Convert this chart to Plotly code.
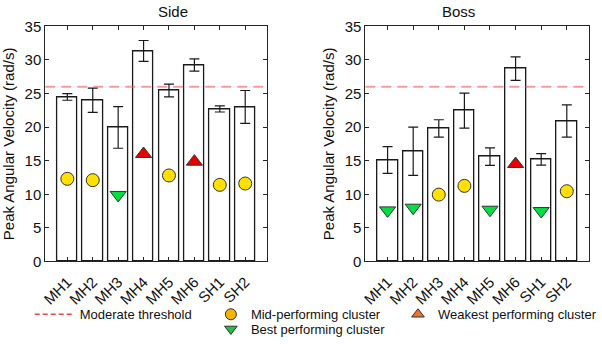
import plotly.graph_objects as go

categories = ["MH1", "MH2", "MH3", "MH4", "MH5", "MH6", "SH1", "SH2"]

side_mean = [24.5, 24.0, 19.95, 31.35, 25.45, 29.25, 22.7, 23.0]
side_err = [0.5, 1.8, 3.1, 1.55, 0.95, 0.9, 0.45, 2.45]
side_cluster = ["mid", "mid", "best", "weak", "mid", "weak", "mid", "mid"]
side_marker = [12.3, 12.1, 9.9, 16.0, 12.8, 14.85, 11.4, 11.6]

boss_mean = [15.1, 16.4, 19.8, 22.45, 15.6, 28.7, 15.2, 20.9]
boss_err = [2.0, 3.6, 1.3, 2.6, 1.3, 1.75, 0.85, 2.4]
boss_cluster = ["best", "best", "mid", "mid", "best", "weak", "best", "mid"]
boss_marker = [7.6, 8.0, 9.95, 11.25, 7.7, 14.5, 7.5, 10.45]

threshold = 26
panel_titles = ["Side", "Boss"]
y_title = "Peak Angular Velocity (rad/s)"
y_ticks = [0, 5, 10, 15, 20, 25, 30, 35]

cluster_style = {
    "mid": dict(symbol="circle", color="#FFE000", size=13, name="Mid-performing cluster",
                legend_color="#F5B400"),
    "best": dict(symbol="triangle-down", color="#00E040", size=14, name="Best performing cluster",
                 legend_color="#22C040"),
    "weak": dict(symbol="triangle-up", color="#E80000", size=14, name="Weakest performing cluster",
                 legend_color="#F07030"),
}

xpos = list(range(1, len(categories) + 1))
xlim = [0.13, 8.87]

fig = go.Figure()
AXC = "#262626"
FONT = "Liberation Sans"

panels = [(side_mean, side_err, side_cluster, side_marker),
          (boss_mean, boss_err, boss_cluster, boss_marker)]
for i, (mean, err, clus, mk) in enumerate(panels):
    xa = "x" if i == 0 else "x2"
    ya = "y" if i == 0 else "y2"
    fig.add_trace(go.Bar(
        x=xpos, y=mean, width=0.8, xaxis=xa, yaxis=ya,
        marker=dict(color="white", line=dict(color="#1a1a1a", width=1.3)),
        error_y=dict(type="data", array=err, visible=True, color="#1a1a1a", thickness=1.2, width=5),
        showlegend=False, hoverinfo="skip"))
    fig.add_trace(go.Scatter(
        x=xlim, y=[threshold, threshold], mode="lines", xaxis=xa, yaxis=ya,
        line=dict(color="rgba(240,90,90,0.6)", width=2, dash="10px,6px"),
        showlegend=False, hoverinfo="skip"))
    for key, st in cluster_style.items():
        xs = [x for x, c in zip(xpos, clus) if c == key]
        ys = [v for v, c in zip(mk, clus) if c == key]
        if not xs:
            continue
        fig.add_trace(go.Scatter(
            x=xs, y=ys, mode="markers", xaxis=xa, yaxis=ya,
            marker=dict(symbol=st["symbol"], color=st["color"], size=st["size"],
                        line=dict(color="#333333", width=1)),
            showlegend=False, hoverinfo="skip"))

# legend-only traces
fig.add_trace(go.Scatter(x=[None], y=[None], mode="lines", name="Moderate threshold",
                         line=dict(color="#E84848", width=1.5, dash="5px,3px"), legend="legend"))
fig.add_trace(go.Scatter(x=[None], y=[None], mode="markers", name=cluster_style["mid"]["name"],
                         marker=dict(symbol="circle", color=cluster_style["mid"]["legend_color"], size=11,
                                     line=dict(color="#333333", width=1)), legend="legend2"))
fig.add_trace(go.Scatter(x=[None], y=[None], mode="markers", name=cluster_style["best"]["name"],
                         marker=dict(symbol="triangle-down", color=cluster_style["best"]["legend_color"], size=11,
                                     line=dict(color="#333333", width=1)), legend="legend4"))
fig.add_trace(go.Scatter(x=[None], y=[None], mode="markers", name=cluster_style["weak"]["name"],
                         marker=dict(symbol="triangle-up", color=cluster_style["weak"]["legend_color"], size=11,
                                     line=dict(color="#333333", width=1)), legend="legend3"))

W, H = 602, 344
ydom = [1 - 264.5 / H, 1 - 26.7 / H]
xdom1 = [45.7 / W, 270 / W]
xdom2 = [369 / W, 595 / W]

axis_common = dict(showline=True, linecolor=AXC, linewidth=1, mirror="ticks", ticks="inside",
                   tickcolor=AXC, ticklen=4, tickfont=dict(size=15, color="#111", family=FONT),
                   showgrid=False, zeroline=False, automargin=False)
xcommon = dict(axis_common, range=xlim, tickvals=xpos, ticktext=categories, tickangle=-45,
               tickfont=dict(size=15, color="#111", family=FONT), ticklabelstandoff=5)
ycommon = dict(axis_common, range=[0, 35], tickvals=y_ticks,
               title=dict(text=y_title, font=dict(size=15, color="#111", family=FONT), standoff=6))

legend_common = dict(bgcolor="rgba(0,0,0,0)", font=dict(size=13, color="#111", family=FONT),
                     xanchor="left", yanchor="middle", tracegroupgap=0)

r1 = 1 - 318 / H
r2 = 1 - 333 / H
fig.update_layout(
    width=W, height=H, margin=dict(l=0, r=0, t=0, b=0),
    paper_bgcolor="white", plot_bgcolor="white", bargap=0,
    xaxis=dict(xcommon, domain=xdom1, anchor="y"),
    yaxis=dict(ycommon, domain=ydom, anchor="x"),
    xaxis2=dict(xcommon, domain=xdom2, anchor="y2"),
    yaxis2=dict(ycommon, domain=ydom, anchor="x2"),
    legend=dict(legend_common, x=30 / W, y=r1, itemwidth=40),
    legend2=dict(legend_common, x=213 / W, y=r1, itemwidth=30),
    legend4=dict(legend_common, x=213 / W, y=r2, itemwidth=30),
    legend3=dict(legend_common, x=402 / W, y=r1, itemwidth=30),
    annotations=[
        dict(text=panel_titles[0], x=(xdom1[0] + xdom1[1]) / 2, y=1 - 12 / H, xref="paper", yref="paper",
             showarrow=False, font=dict(size=15, color="#111", family=FONT), yanchor="middle"),
        dict(text=panel_titles[1], x=(xdom2[0] + xdom2[1]) / 2, y=1 - 12 / H, xref="paper", yref="paper",
             showarrow=False, font=dict(size=15, color="#111", family=FONT), yanchor="middle"),
    ],
)

fig.write_html("out.html")
